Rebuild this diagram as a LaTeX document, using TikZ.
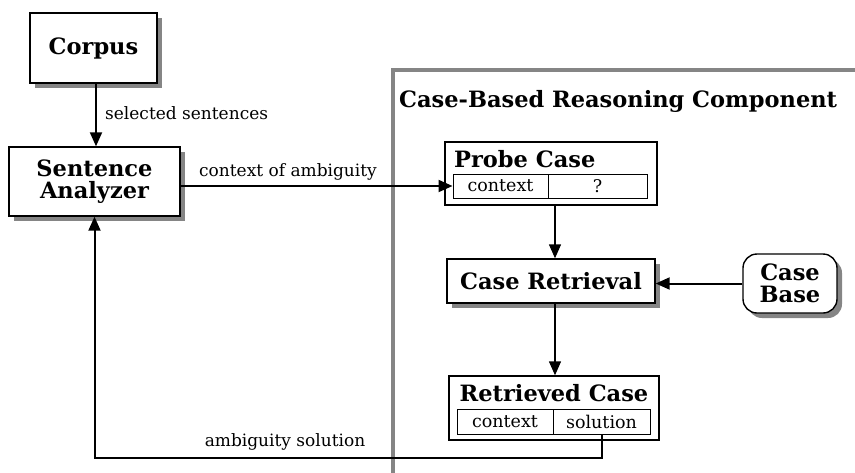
\documentclass[tikz,border=0pt]{standalone}
\usepackage{fontspec}
\setmainfont{DejaVu Serif}
\usetikzlibrary{arrows.meta,shadows,positioning}
\definecolor{framegray}{HTML}{858585}
\tikzset{
  bigfont/.style={font=\fontsize{22.5}{25}\selectfont\bfseries},
  box/.style={draw=black, line width=1.4pt, fill=white, inner sep=0pt, align=center, bigfont},
  shadowed/.style={drop shadow={shadow xshift=5pt, shadow yshift=-5pt, fill=framegray, opacity=1}},
  cell/.style={draw=black, line width=1pt, inner sep=0pt, font=\fontsize{17.5}{20}\selectfont},
  lbl/.style={font=\fontsize{17}{20}\selectfont, inner sep=0pt},
  conn/.style={line width=2pt, -{Triangle[length=14pt,width=12pt]}},
  slimconn/.style={line width=1.4pt, -{Triangle[length=14pt,width=12pt]}},
}
\begin{document}
\begin{tikzpicture}[x=1pt,y=-1pt]
\useasboundingbox (0,0) rectangle (855,472);
% frame
\draw[draw=framegray, line width=4pt] (393,474) -- (393,70) -- (857,70);
\node[anchor=west, inner sep=0pt, bigfont] (title) at (399,101) {Case-Based Reasoning Component};
% left nodes
\node[box, shadowed, minimum width=127pt, minimum height=70pt] (corpus) at (93.5,48) {Corpus};
\node[box, shadowed, minimum width=171pt, minimum height=69pt] (sa) at (94.5,181.5) {Sentence\\[-3pt]Analyzer};
% probe case
\node[draw, line width=1.4pt, fill=white, minimum width=212pt, minimum height=63pt, inner sep=0pt] (probe) at (551,173.5) {};
\node[anchor=west, inner sep=0pt, bigfont] (ptitle) at (454,159) {Probe Case};
\node[cell, minimum width=95pt, minimum height=24pt] (pctx) at (500.5,186) {context};
\node[cell, minimum width=99pt, minimum height=24pt] (pq) at (597.5,186) {?};
% case retrieval
\node[box, shadowed, minimum width=208pt, minimum height=44pt] (cr) at (551,281) {Case Retrieval};
% case base
\node[box, shadowed, rounded corners=14pt, minimum width=94pt, minimum height=59pt] (cb) at (790,283.5) {Case\\[-3pt]Base};
% retrieved case
\node[draw, line width=1.4pt, fill=white, minimum width=210pt, minimum height=64pt, inner sep=0pt] (rc) at (554,408) {};
\node[inner sep=0pt, bigfont] (rtitle) at (554,393) {Retrieved Case};
\node[cell, minimum width=96pt, minimum height=25pt] (rctx) at (505,421.5) {context};
\node[cell, minimum width=97pt, minimum height=25pt] (rsol) at (601.5,421.5) {solution};
% connectors
\draw[conn] (corpus.south -| 96,0) -- (sa.north -| 96,0);
\node[lbl, anchor=west] (l1) at (105,113) {selected sentences};
\draw[conn] (sa.east |- pctx) -- (pctx.west);
\node[lbl] (l2) at (288,172) {context of ambiguity};
\draw[slimconn] (probe.south -| 555,0) -- (cr.north -| 555,0);
\draw[conn] (cb.west) -- (cb.west -| cr.east);
\draw[slimconn] (cr.south -| 555,0) -- (rc.north -| 555,0);
\draw[conn] (rsol.south) -- ++(0,23) -| (sa.south);
\node[lbl] (l3) at (285,442) {ambiguity solution};
\end{tikzpicture}
\end{document}
